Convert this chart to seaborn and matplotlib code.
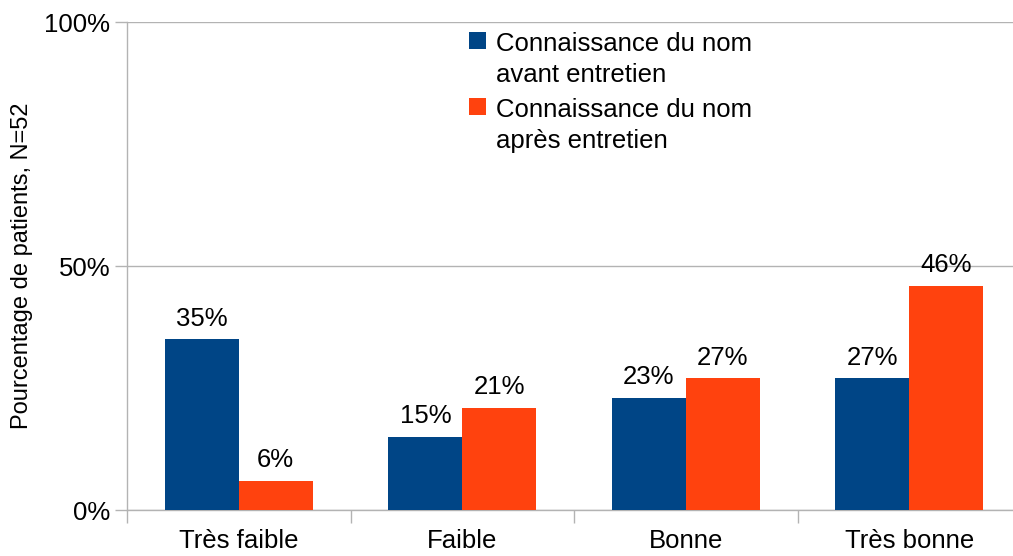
import pandas as pd
import matplotlib
matplotlib.use("Agg")
import matplotlib.pyplot as plt
import seaborn as sns
from matplotlib.ticker import FixedLocator
from matplotlib.patches import Rectangle
from matplotlib.legend_handler import HandlerPatch

categories = ["Très faible", "Faible", "Bonne", "Très bonne"]
series = ["Connaissance du nom\navant entretien", "Connaissance du nom\naprès entretien"]
avant = [35, 15, 23, 27]
apres = [6, 21, 27, 46]

df = pd.DataFrame({
    "niveau": categories * 2,
    "serie": [series[0]] * 4 + [series[1]] * 4,
    "pct": avant + apres,
})

sns.set_style("white")
plt.rcParams["font.family"] = ["Liberation Sans", "DejaVu Sans"]
plt.rcParams["text.color"] = "black"
plt.rcParams["axes.labelcolor"] = "black"
plt.rcParams["xtick.color"] = "black"
plt.rcParams["ytick.color"] = "black"

W, H = 1013, 556
fig = plt.figure(figsize=(W / 100, H / 100), dpi=100)
ax = fig.add_axes([127 / W, (H - 510) / H, (1021 - 127) / W, (510 - 22) / H])

colors = ["#004586", "#ff420e"]
sns.barplot(data=df, x="niveau", y="pct", hue="serie", palette=colors,
            width=0.66, gap=0, saturation=1, linewidth=0, ax=ax,
            legend=True, zorder=3)

for cont in ax.containers:
    ax.bar_label(cont, labels=[f"{v:.0f}%" for v in cont.datavalues],
                 padding=6, fontsize=18.5, color="black")

ax.set_ylim(0, 100)
ax.set_xlim(-0.5, 3.5)
ax.set_yticks([0, 50, 100])
ax.set_yticklabels(["0%", "50%", "100%"], fontsize=18.5)
ax.yaxis.grid(True, color="#b3b3b3", linewidth=1, zorder=0)
ax.set_axisbelow(True)

ax.set_xticks(range(4))
ax.set_xticklabels(categories, fontsize=18.5)
ax.xaxis.set_minor_locator(FixedLocator([-0.5, 0.5, 1.5, 2.5, 3.5]))
ax.tick_params(axis="x", which="major", length=0, pad=14)
ax.tick_params(axis="x", which="minor", bottom=True, length=9,
               color="#b3b3b3", width=1)
ax.tick_params(axis="y", left=True, length=9, color="#b3b3b3", width=1,
               pad=3, labelcolor="black")

for s in ["top", "right"]:
    ax.spines[s].set_visible(False)
for s in ["left", "bottom"]:
    ax.spines[s].set_color("#b3b3b3")
    ax.spines[s].set_linewidth(1)

ax.set_xlabel("")
ax.set_ylabel("Pourcentage de patients, N=52", fontsize=17, labelpad=8,
              color="black")


# square marker aligned with the first text line
def top_square(legend, orig_handle, xdescent, ydescent, width, height, fontsize):
    return Rectangle((-xdescent, -ydescent + 14), width, height)


handles, labels = ax.get_legend_handles_labels()
leg = ax.legend(handles, labels, loc="upper left",
                bbox_to_anchor=(459 / W, 1 - 22 / H),
                bbox_transform=fig.transFigure, frameon=False, fontsize=18.5,
                handlelength=0.65, handleheight=0.65, handletextpad=0.4,
                labelspacing=0.45, borderaxespad=0,
                handler_map={Rectangle: HandlerPatch(patch_func=top_square)})
for t in leg.get_texts():
    t.set_color("black")
    t.set_linespacing(1.35)

fig.savefig("out.png", dpi=100)
